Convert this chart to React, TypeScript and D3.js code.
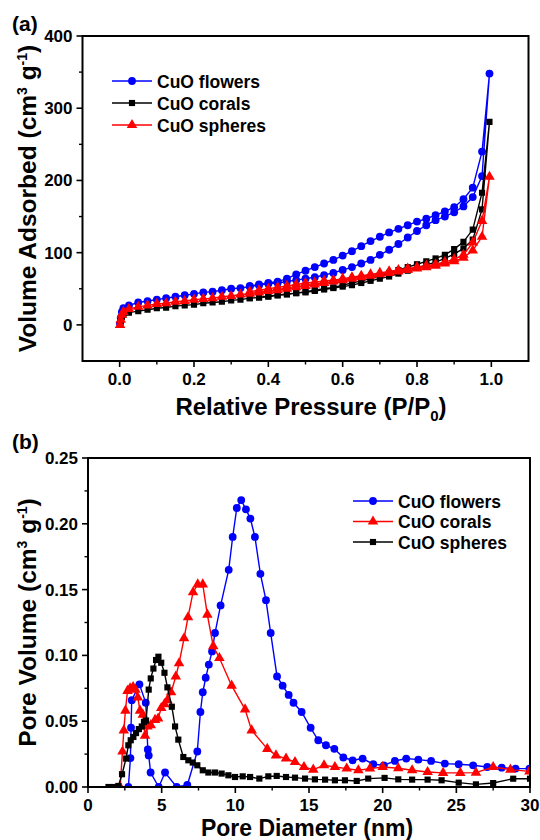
import React from "react";
import * as d3 from "d3";

// ---- (a) N2 isotherms: adsorption branch then desorption branch ----
const adsP = [0.001, 0.003, 0.006, 0.01, 0.025, 0.05, 0.075, 0.1, 0.125, 0.15, 0.175, 0.2, 0.225, 0.25, 0.275, 0.3, 0.325, 0.35, 0.375, 0.4, 0.425, 0.45, 0.475, 0.5, 0.525, 0.55, 0.575, 0.6, 0.625, 0.65, 0.675, 0.7, 0.725, 0.75, 0.775, 0.8, 0.825, 0.85, 0.875, 0.9, 0.925, 0.95, 0.975, 0.995];
const desP = [0.975, 0.95, 0.925, 0.9, 0.875, 0.85, 0.825, 0.8, 0.775, 0.75, 0.725, 0.7, 0.675, 0.65, 0.625, 0.6, 0.575, 0.55, 0.525, 0.5, 0.475, 0.45, 0.425, 0.4, 0.375, 0.35];

const flowersAds = [2, 10, 18, 23, 27, 31, 33, 35, 37, 39, 41, 43, 45, 46, 48, 50, 51, 53, 55, 57, 58, 60, 62, 64, 66, 69, 72, 76, 80, 85, 90, 97, 104, 112, 121, 130, 138, 145, 150, 156, 164, 177, 206, 348];
const flowersDes = [240, 190, 174, 163, 157, 152, 147, 143, 138, 133, 128, 122, 116, 109, 102, 96, 90, 85, 80, 75, 70, 64, 60, 58, 56, 54];
const coralsAds = [1, 6, 11, 14, 17, 19, 21, 23, 24, 26, 27, 28, 30, 31, 32, 34, 35, 37, 38, 39, 41, 42, 44, 45, 47, 49, 51, 53, 55, 58, 61, 64, 67, 71, 75, 79, 83, 87, 92, 98, 106, 118, 160, 281];
const coralsDes = [183, 132, 115, 105, 97, 92, 88, 84, 80, 76, 72, 68, 64, 61, 58, 55, 52, 50, 48, 46, 44, 43, 41, 40, 38, 37];
const spheresAds = [0, 7, 14, 18, 22, 25, 27, 29, 30, 32, 33, 35, 36, 37, 39, 40, 42, 43, 45, 47, 48, 50, 52, 54, 56, 58, 60, 62, 64, 66, 68, 70, 72, 74, 76, 78, 80, 82, 85, 88, 93, 103, 122, 205];
const spheresDes = [144, 114, 97, 91, 87, 84, 82, 80, 78, 76, 74, 72, 70, 68, 66, 64, 62, 61, 59, 58, 56, 54, 52, 50, 48, 46];

const isoXTicks = [0, 0.2, 0.4, 0.6, 0.8, 1.0];
const isoYTicks = [0, 100, 200, 300, 400];

// ---- (b) pore size distribution ----
const flowersD = [2.74, 2.88, 2.92, 2.97, 3.49, 3.92, 4.06, 4.12, 4.25, 4.8, 5.23, 6.02, 6.74, 7.42, 7.63, 7.79, 7.99, 8.2, 8.42, 8.62, 9.0, 9.55, 9.82, 10.1, 10.4, 10.72, 11.02, 11.33, 11.7, 12.08, 12.4, 12.83, 13.21, 13.62, 13.95, 14.5, 15.11, 15.63, 16.15, 16.72, 17.33, 17.96, 18.64, 19.36, 20.08, 20.83, 21.6, 22.42, 23.29, 24.22, 25.16, 26.14, 27.1, 28.08, 29.02, 29.96];
const flowersV = [0, 0.022, 0.045, 0.066, 0.078, 0.064, 0.0285, 0.024, 0.011, 0, 0.011, 0, 0.0015, 0.027, 0.057, 0.072, 0.083, 0.093, 0.103, 0.117, 0.138, 0.165, 0.19, 0.212, 0.218, 0.211, 0.204, 0.19, 0.162, 0.142, 0.117, 0.084, 0.077, 0.07, 0.064, 0.057, 0.045, 0.0355, 0.0317, 0.029, 0.0224, 0.0203, 0.0216, 0.0173, 0.0165, 0.0198, 0.0216, 0.0208, 0.0198, 0.0178, 0.0173, 0.0165, 0.0152, 0.0147, 0.014, 0.014];
const coralsD = [2.18, 2.34, 2.43, 2.54, 2.68, 2.86, 3.06, 3.22, 3.38, 3.53, 3.72, 3.87, 4.03, 4.26, 4.55, 4.76, 4.97, 5.19, 5.39, 5.64, 5.96, 6.18, 6.52, 6.79, 7.13, 7.45, 7.79, 8.1, 8.5, 8.92, 9.75, 10.66, 11.11, 12.17, 12.76, 13.44, 14.05, 14.66, 15.29, 16.02, 16.76, 17.56, 18.35, 19.14, 20.0, 21.06, 22.0, 23.05, 24.1, 25.27, 26.33, 27.5, 28.67, 29.96];
const coralsV = [0, 0.027, 0.043, 0.058, 0.073, 0.075, 0.076, 0.074, 0.068, 0.058, 0.055, 0.039, 0.046, 0.047, 0.051, 0.052, 0.06, 0.063, 0.066, 0.072, 0.084, 0.094, 0.113, 0.129, 0.148, 0.154, 0.154, 0.131, 0.107, 0.098, 0.077, 0.059, 0.043, 0.029, 0.024, 0.0216, 0.019, 0.0152, 0.0132, 0.0165, 0.0152, 0.014, 0.0127, 0.014, 0.0152, 0.0142, 0.0127, 0.0114, 0.0107, 0.0107, 0.0109, 0.0152, 0.0132, 0.0119];
const spheresD = [1.39, 1.77, 2.06, 2.31, 2.58, 2.74, 2.9, 3.08, 3.26, 3.45, 3.65, 3.8, 3.94, 4.12, 4.26, 4.44, 4.62, 4.78, 4.97, 5.19, 5.39, 5.69, 5.91, 6.13, 6.47, 6.81, 7.11, 7.42, 7.79, 8.17, 8.62, 9.07, 9.53, 9.98, 10.5, 11.0, 11.63, 12.24, 12.81, 13.44, 14.05, 14.73, 15.4, 16.09, 16.76, 17.44, 18.24, 19.02, 20.13, 21.06, 22.0, 23.05, 24.0, 25.16, 26.33, 27.5, 28.86, 30.0];
const spheresV = [0, 0, 0.0008, 0.0097, 0.0216, 0.0317, 0.0355, 0.038, 0.041, 0.044, 0.046, 0.0495, 0.0505, 0.074, 0.0825, 0.09, 0.0965, 0.099, 0.0944, 0.0868, 0.0757, 0.061, 0.046, 0.036, 0.0228, 0.0203, 0.0186, 0.0165, 0.0127, 0.011, 0.011, 0.0102, 0.0089, 0.0076, 0.0081, 0.0076, 0.0064, 0.0081, 0.0084, 0.0076, 0.0071, 0.0064, 0.0058, 0.0056, 0.0051, 0.0051, 0.0046, 0.0064, 0.0069, 0.0058, 0.0056, 0.0056, 0.0051, 0.0033, 0.002, 0.003, 0.0063, 0.0063];

const psdXTicks = [0, 5, 10, 15, 20, 25, 30];
const psdYTicks = [0, 0.05, 0.1, 0.15, 0.2, 0.25];

const FONT = "'Liberation Sans', Arial, Helvetica, sans-serif";
const BLUE = "#0000ff";
const RED = "#ff0000";
const BLACK = "#000000";

const symbols = {
  circle: d3.symbol().type(d3.symbolCircle).size(48)(),
  square: d3.symbol().type(d3.symbolSquare).size(38)(),
  triangle: d3.symbol().type(d3.symbolTriangle).size(48)(),
};

type Shape = keyof typeof symbols;
type Series = { name: string; color: string; shape: Shape; xs: number[]; ys: number[] };

const isoSeries: Series[] = [
  { name: "CuO flowers", color: BLUE, shape: "circle", xs: [...adsP, ...desP], ys: [...flowersAds, ...flowersDes] },
  { name: "CuO corals", color: BLACK, shape: "square", xs: [...adsP, ...desP], ys: [...coralsAds, ...coralsDes] },
  { name: "CuO spheres", color: RED, shape: "triangle", xs: [...adsP, ...desP], ys: [...spheresAds, ...spheresDes] },
];

const psdSeries: Series[] = [
  { name: "CuO flowers", color: BLUE, shape: "circle", xs: flowersD, ys: flowersV },
  { name: "CuO corals", color: RED, shape: "triangle", xs: coralsD, ys: coralsV },
  { name: "CuO spheres", color: BLACK, shape: "square", xs: spheresD, ys: spheresV },
];

type PanelProps = {
  id: string;
  box: { left: number; right: number; top: number; bottom: number };
  xDomain: [number, number];
  yDomain: [number, number];
  xTicks: number[];
  yTicks: number[];
  xFmt: (v: number) => string;
  yFmt: (v: number) => string;
  series: Series[];
  legend: { x: number; y: number; gap: number };
  label: string;
  labelY: number;
  xTitle: React.ReactNode;
  yTitle: React.ReactNode;
  xTitleX: number;
  xTitleY: number;
  xTitleSize: number;
  yTitleX: number;
};

function Panel(p: PanelProps) {
  const { left, right, top, bottom } = p.box;
  const x = d3.scaleLinear().domain(p.xDomain).range([left, right]);
  const y = d3.scaleLinear().domain(p.yDomain).range([bottom, top]);
  const xMinor = d3.pairs(p.xTicks).map(([a, b]) => (a + b) / 2);
  const yMinor = d3.pairs(p.yTicks).map(([a, b]) => (a + b) / 2);
  const line = d3.line<[number, number]>().x((d) => x(d[0])).y((d) => y(d[1]));
  const clip = `clip-${p.id}`;

  return (
    <g>
      <defs>
        <clipPath id={clip}>
          <rect x={left} y={top - 6} width={right - left} height={bottom - top + 6} />
        </clipPath>
      </defs>
      <g clipPath={`url(#${clip})`}>
        {p.series.map((s) => {
          const pts = s.xs.map((v, i) => [v, s.ys[i]] as [number, number]);
          return (
            <g key={s.name}>
              <path d={line(pts) || ""} fill="none" stroke={s.color} strokeWidth={1.4} />
              {pts.map((d, i) => (
                <path key={i} d={symbols[s.shape]} transform={`translate(${x(d[0])},${y(d[1])})`} fill={s.color} />
              ))}
            </g>
          );
        })}
      </g>
      <rect x={left} y={top} width={right - left} height={bottom - top} fill="none" stroke="#000" strokeWidth={2} />
      {p.xTicks.map((t) => (
        <g key={`xt${t}`}>
          <line x1={x(t)} x2={x(t)} y1={bottom} y2={bottom + 6} stroke="#000" strokeWidth={1.6} />
          <text x={x(t)} y={bottom + 24} textAnchor="middle" fontSize={17} fontWeight="bold" fontFamily={FONT}>
            {p.xFmt(t)}
          </text>
        </g>
      ))}
      {xMinor.map((t) => (
        <line key={`xm${t}`} x1={x(t)} x2={x(t)} y1={bottom} y2={bottom + 3.5} stroke="#000" strokeWidth={1.4} />
      ))}
      {p.yTicks.map((t) => (
        <g key={`yt${t}`}>
          <line x1={left - 6} x2={left} y1={y(t)} y2={y(t)} stroke="#000" strokeWidth={1.6} />
          <text x={left - 10} y={y(t) + 6} textAnchor="end" fontSize={17} fontWeight="bold" fontFamily={FONT}>
            {p.yFmt(t)}
          </text>
        </g>
      ))}
      {yMinor.map((t) => (
        <line key={`ym${t}`} x1={left - 3.5} x2={left} y1={y(t)} y2={y(t)} stroke="#000" strokeWidth={1.4} />
      ))}
      {p.series.map((s, i) => {
        const ly = p.legend.y + i * p.legend.gap;
        return (
          <g key={`lg${s.name}`}>
            <line x1={p.legend.x} x2={p.legend.x + 40} y1={ly} y2={ly} stroke={s.color} strokeWidth={1.4} />
            <path d={symbols[s.shape]} transform={`translate(${p.legend.x + 20},${ly})`} fill={s.color} />
            <text x={p.legend.x + 45} y={ly + 6.5} fontSize={17.5} fontWeight="bold" fontFamily={FONT}>
              {s.name}
            </text>
          </g>
        );
      })}
      <text x={12} y={p.labelY} fontSize={21} fontWeight="bold" fontFamily={FONT}>
        {p.label}
      </text>
      <text x={p.xTitleX} y={p.xTitleY} textAnchor="middle" fontSize={p.xTitleSize} fontWeight="bold" fontFamily={FONT}>
        {p.xTitle}
      </text>
      <text
        transform={`translate(${p.yTitleX},${(top + bottom) / 2}) rotate(-90)`}
        textAnchor="middle"
        fontSize={24.5}
        fontWeight="bold"
        fontFamily={FONT}
      >
        {p.yTitle}
      </text>
    </g>
  );
}

const unitsTitle = (
  <>
    (cm<tspan dy={-9} fontSize={14}>3</tspan>
    <tspan dy={9}> g</tspan>
    <tspan dy={-9} fontSize={14}>-1</tspan>
    <tspan dy={9}>)</tspan>
  </>
);

export default function App() {
  return (
    <svg width={540} height={840} style={{ position: "absolute", left: 0, top: 0, background: "#fff" }}>
      <Panel
        id="a"
        box={{ left: 82.5, right: 528.5, top: 36, bottom: 361 }}
        xDomain={[-0.1, 1.1]}
        yDomain={[-50, 400]}
        xTicks={isoXTicks}
        yTicks={isoYTicks}
        xFmt={d3.format(".1f")}
        yFmt={d3.format("d")}
        series={isoSeries}
        legend={{ x: 112, y: 81, gap: 22 }}
        label="(a)"
        labelY={31}
        xTitle={
          <>
            Relative Pressure (P/P<tspan dy={6} fontSize={15}>0</tspan>
            <tspan dy={-6}>)</tspan>
          </>
        }
        xTitleX={311}
        xTitleY={415}
        xTitleSize={24}
        yTitle={<>Volume Adsorbed {unitsTitle}</>}
        yTitleX={36}
      />
      <Panel
        id="b"
        box={{ left: 88, right: 530, top: 458, bottom: 787 }}
        xDomain={[0, 30]}
        yDomain={[0, 0.25]}
        xTicks={psdXTicks}
        yTicks={psdYTicks}
        xFmt={d3.format("d")}
        yFmt={d3.format(".2f")}
        series={psdSeries}
        legend={{ x: 353, y: 501, gap: 20.5 }}
        label="(b)"
        labelY={449}
        xTitle={<>Pore Diameter (nm)</>}
        xTitleX={307}
        xTitleY={836}
        xTitleSize={23}
        yTitle={<>Pore Volume {unitsTitle}</>}
        yTitleX={36}
      />
    </svg>
  );
}
